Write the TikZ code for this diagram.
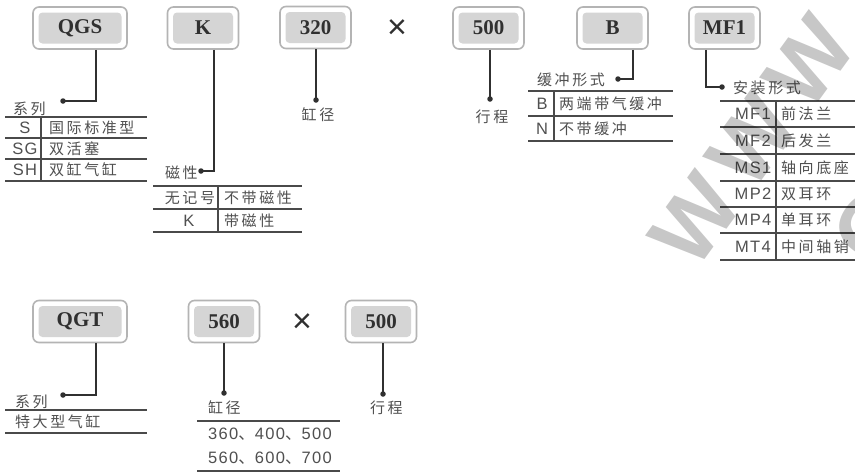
\documentclass[tikz,border=0pt]{standalone}
\usepackage{fontspec}
\setmainfont{Liberation Serif}
\newfontfamily\cjk[LetterSpace=17]{Noto Sans CJK SC}
\newfontfamily\lat[LetterSpace=8]{Liberation Sans}
\newfontfamily\wmfont{Liberation Sans}
\newfontfamily\wmwide[LetterSpace=14]{Liberation Sans}
\newcommand{\dunhao}{{\cjk 、}}
\usetikzlibrary{calc}
\definecolor{boxedge}{HTML}{B4B4B4}
\definecolor{boxfill}{HTML}{D5D5D5}
\definecolor{ink}{HTML}{303030}
\definecolor{txt}{HTML}{505050}
\definecolor{rulec}{HTML}{4A4A4A}
\begin{document}
\begin{tikzpicture}[x=1pt,y=-1pt,
  codebox/.style={draw=boxedge, line width=1.6pt, fill=white, rounded corners=6pt,
    minimum width=71pt, minimum height=42pt, inner sep=0pt,
    font=\fontsize{21}{24}\selectfont\bfseries, text=ink,
    path picture={\fill[boxfill, rounded corners=4pt]
      ([shift={(5.5pt,-5.5pt)}]path picture bounding box.north west) rectangle
      ([shift={(-5.5pt,5.5pt)}]path picture bounding box.south east);}},
  widebox/.style={codebox, minimum width=94pt},
  lab/.style={inner sep=0pt, font=\cjk\fontsize{15}{17}\selectfont, text=txt},
  latlab/.style={inner sep=0pt, font=\lat\fontsize{16.5}{18}\selectfont, text=txt},
  times/.style={inner sep=0pt, font=\wmfont\fontsize{34}{34}\selectfont, text=ink},
  dotnode/.style={circle, fill=ink, inner sep=0pt, minimum size=5.5pt},
  conn/.style={draw=ink, line width=1.3pt},
  tabrule/.style={draw=rulec, line width=1.4pt},
  wm/.style={inner sep=0pt, font=\wmwide\bfseries\fontsize{90}{90}\selectfont, text=black, opacity=0.22}
]
\useasboundingbox (0,0) rectangle (855,472);
\fill[white] (0,0) rectangle (855,472);

% ---------- top row boxes ----------
\node[widebox] (qgs) at (80,28) {QGS};
\node[codebox] (k)   at (203,28) {K};
\node[codebox] (n320) at (315.5,27.5) {320};
\node[times] (x1) at (397,29) {×};
\node[codebox] (n500) at (488.5,28) {500};
\node[codebox] (b)   at (612.5,28) {B};
\node[codebox] (mf1) at (724.5,28) {MF1};

% helper coordinates for connector x positions
\coordinate (kq) at (96,0);
\coordinate (kk) at (214,0);
\coordinate (kb) at (633,0);
\coordinate (km) at (706,0);

% dots
\node[dotnode] (d1) at (63,101) {};
\node[dotnode] (d2) at (201,171) {};
\node[dotnode] (d3) at (316,100) {};
\node[dotnode] (d4) at (490,99) {};
\node[dotnode] (d5) at (618,79) {};
\node[dotnode] (d6) at (722,87) {};

\draw[conn] (qgs.south -| kq) |- (d1.center);
\draw[conn] (k.south -| kk) |- (d2.center);
\draw[conn] (n320.south -| d3) -- (d3.center);
\draw[conn] (n500.south -| d4) -- (d4.center);
\draw[conn] (b.south -| kb) |- (d5.center);
\draw[conn] (mf1.south -| km) |- (d6.center);

% ---------- 系列 table ----------
\node[lab, anchor=west] (l1) at (13,109) {系列};
\draw[tabrule] (5,117) -- (147,117) (5,138) -- (147,138) (5,159) -- (147,159) (5,181) -- (147,181);
\draw[tabrule] (41,117) -- (41,181);
\node[latlab] (s1a) at (25,127.5) {S};
\node[lab, anchor=west] (s1b) at (49,127.5) {国际标准型};
\node[latlab] (s2a) at (25,148.5) {SG};
\node[lab, anchor=west] (s2b) at (49,148.5) {双活塞};
\node[latlab] (s3a) at (25,170) {SH};
\node[lab, anchor=west] (s3b) at (49,170) {双缸气缸};

% ---------- 磁性 table ----------
\node[lab, anchor=west] (l2) at (165,173) {磁性};
\draw[tabrule] (153,186) -- (302,186) (153,209) -- (302,209) (153,232) -- (302,232);
\draw[tabrule] (218,186) -- (218,232);
\node[lab] (m1a) at (190,197.5) {无记号};
\node[lab, anchor=west] (m1b) at (224,197.5) {不带磁性};
\node[latlab] (m2a) at (189,220.5) {K};
\node[lab, anchor=west] (m2b) at (224,220.5) {带磁性};

% ---------- 缸径 / 行程 ----------
\node[lab] (l3) at (318,115) {缸径};
\node[lab] (l4) at (492,117) {行程};

% ---------- 缓冲形式 table ----------
\node[lab, anchor=west] (l5) at (537,80) {缓冲形式};
\draw[tabrule] (528,91) -- (673,91) (528,116) -- (673,116) (528,141) -- (673,141);
\draw[tabrule] (554,91) -- (554,141);
\node[latlab] (c1a) at (542,103.5) {B};
\node[lab, anchor=west] (c1b) at (559,103.5) {两端带气缓冲};
\node[latlab] (c2a) at (542,128.5) {N};
\node[lab, anchor=west] (c2b) at (559,128.5) {不带缓冲};

% ---------- 安装形式 table ----------
\node[lab, anchor=west] (l6) at (733,88) {安装形式};
\draw[tabrule] (720,101) -- (855,101) (720,127) -- (855,127) (720,154) -- (855,154)
  (720,181) -- (855,181) (720,207) -- (855,207) (720,233) -- (855,233) (720,260) -- (855,260);
\draw[tabrule] (776,101) -- (776,260);
\node[latlab] (a1a) at (753,114) {MF1};
\node[lab, anchor=west] (a1b) at (781,114) {前法兰};
\node[latlab] (a2a) at (753,140.5) {MF2};
\node[lab, anchor=west] (a2b) at (781,140.5) {后发兰};
\node[latlab] (a3a) at (753,167.5) {MS1};
\node[lab, anchor=west] (a3b) at (781,167.5) {轴向底座};
\node[latlab] (a4a) at (753,194) {MP2};
\node[lab, anchor=west] (a4b) at (781,194) {双耳环};
\node[latlab] (a5a) at (753,220) {MP4};
\node[lab, anchor=west] (a5b) at (781,220) {单耳环};
\node[latlab] (a6a) at (753,246.5) {MT4};
\node[lab, anchor=west] (a6b) at (781,246.5) {中间轴销};

% ---------- bottom row ----------
\node[widebox] (qgt) at (80,321.5) {QGT};
\node[codebox] (n560) at (224,321.5) {560};
\node[times] (x2) at (302,323) {×};
\node[codebox] (n500b) at (381,321.5) {500};

\node[dotnode] (d7) at (63,395) {};
\node[dotnode] (d8) at (224,393) {};
\node[dotnode] (d9) at (383,394) {};
\draw[conn] (qgt.south -| kq) |- (d7.center);
\draw[conn] (n560.south -| d8) -- (d8.center);
\draw[conn] (n500b.south -| d9) -- (d9.center);

\node[lab, anchor=west] (l7) at (15,402) {系列};
\draw[tabrule] (5,410) -- (147,410) (5,433) -- (147,433);
\node[lab, anchor=west] (t1) at (15,422) {特大型气缸};

\node[lab, anchor=west] (l8) at (208,408) {缸径};
\draw[tabrule] (197,421) -- (340,421) (197,471) -- (340,471);
\node[latlab, anchor=west] (g1) at (208,434) {360\dunhao400\dunhao500};
\node[latlab, anchor=west] (g2) at (208,458) {560\dunhao600\dunhao700};
\node[lab, anchor=west] (l9) at (370,408) {行程};

% ---------- watermark ----------
\begin{scope}
\clip (0,0) rectangle (855,472);
\node[wm, rotate=54] (wm1) at (762,128) {WWW.};
\node[wm, rotate=54] (wm2) at (872,228) {C};
\end{scope}
\end{tikzpicture}
\end{document}
